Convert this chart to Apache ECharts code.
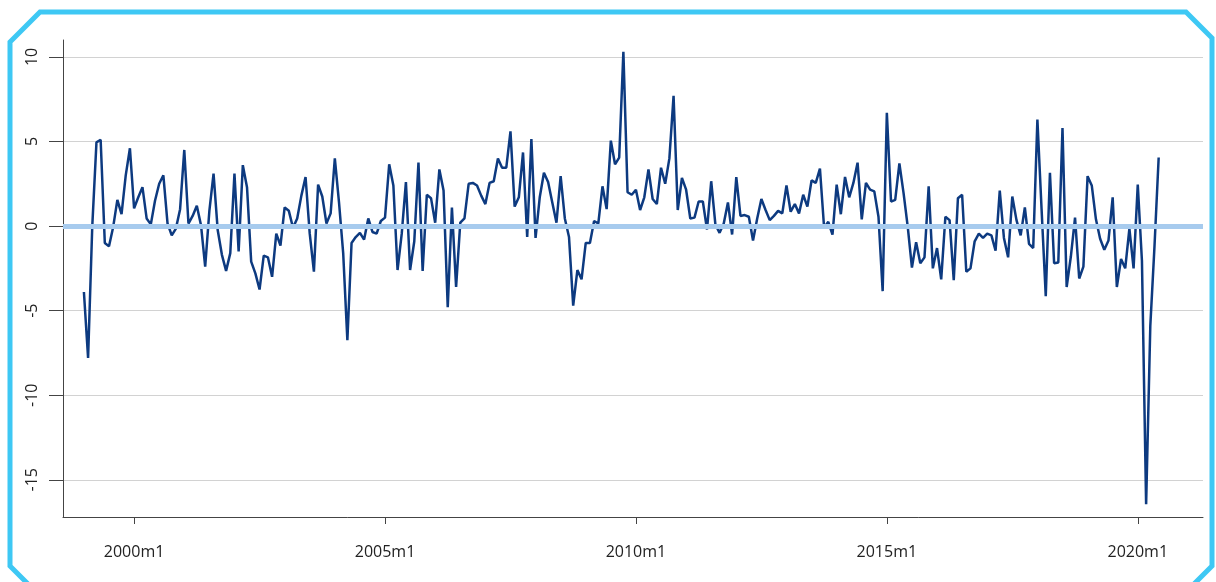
<!DOCTYPE html>
<html>
<head>
<meta charset="utf-8">
<script src="https://cdn.jsdelivr.net/npm/echarts@6/dist/echarts.min.js"></script>
<style>
html,body{margin:0;padding:0;background:#fff}
#chart{width:1216px;height:582px}
</style>
</head>
<body>
<div id="chart"></div>
<script>
// monthly series, 1999m1 .. 2020m6
var startYear = 1999;
var values = [
  -3.9, -7.8, 0.0, 4.95, 5.1, -1.0, -1.2, -0.05, 1.55, 0.7, 3.0, 4.6,
  1.05, 1.7, 2.3, 0.45, 0.1, 1.5, 2.5, 3.0, 0.15, -0.55, -0.15, 1.0,
  4.5, 0.15, 0.6, 1.2, 0.05, -2.4, 0.9, 3.1, -0.25, -1.7, -2.65, -1.6,
  3.1, -1.5, 3.6, 2.3, -2.1, -2.8, -3.75, -1.75, -1.85, -3.0, -0.45, -1.15,
  1.1, 0.9, -0.1, 0.45, 1.8, 2.9, -0.45, -2.7, 2.45, 1.75, 0.15, 0.75,
  4.0, 1.4, -1.6, -6.75, -1.0, -0.65, -0.4, -0.8, 0.45, -0.35, -0.45, 0.3,
  0.5, 3.65, 2.4, -2.6, -0.45, 2.6, -2.6, -0.9, 3.75, -2.65, 1.85, 1.65,
  0.2, 3.35, 2.1, -4.8, 1.1, -3.6, 0.2, 0.45, 2.5, 2.55, 2.4, 1.8,
  1.3, 2.55, 2.65, 4.0, 3.45, 3.45, 5.6, 1.15, 1.7, 4.35, -0.65, 5.15,
  -0.7, 1.7, 3.15, 2.6, 1.4, 0.2, 2.95, 0.45, -0.65, -4.7, -2.6, -3.15,
  -1.0, -1.0, 0.3, 0.15, 2.35, 1.0, 5.05, 3.65, 4.05, 10.3, 2.0, 1.85,
  2.15, 0.95, 1.7, 3.35, 1.6, 1.3, 3.45, 2.5, 4.0, 7.7, 0.95, 2.85,
  2.15, 0.45, 0.5, 1.45, 1.45, -0.2, 2.65, 0.1, -0.4, 0.15, 1.4, -0.5,
  2.9, 0.6, 0.65, 0.55, -0.85, 0.45, 1.6, 0.95, 0.35, 0.6, 0.9, 0.75,
  2.4, 0.85, 1.3, 0.75, 1.85, 1.15, 2.7, 2.55, 3.4, -0.1, 0.25, -0.5,
  2.45, 0.7, 2.9, 1.7, 2.55, 3.75, 0.4, 2.55, 2.15, 2.05, 0.55, -3.85,
  6.7, 1.45, 1.55, 3.7, 1.95, -0.05, -2.45, -0.95, -2.2, -1.85, 2.35, -2.5,
  -1.3, -3.15, 0.55, 0.35, -3.2, 1.65, 1.85, -2.7, -2.5, -0.9, -0.45, -0.7,
  -0.45, -0.55, -1.45, 2.1, -0.7, -1.85, 1.75, 0.35, -0.55, 1.1, -1.05, -1.3,
  6.3, 1.0, -4.15, 3.15, -2.2, -2.15, 5.8, -3.6, -1.8, 0.5, -3.1, -2.4,
  2.95, 2.4, 0.4, -0.75, -1.4, -0.85, 1.7, -3.6, -1.95, -2.5, -0.15, -2.5,
  2.45, -2.05, -16.45, -5.9, -1.2, 4.05
];
var yTicks = [-15, -10, -5, 0, 5, 10];
var xTickYears = [2000, 2005, 2010, 2015, 2020];

var xTicks = xTickYears.map(function(y) { return (y - startYear) * 12; });
var lineData = values.map(function(v, i) { return [i, v]; });

function monthLabel(v) {
  var y = startYear + Math.floor(v / 12);
  return y + 'm' + (v - (y - startYear) * 12 + 1);
}

var myChart = echarts.init(document.getElementById('chart'), null, {renderer: 'canvas'});

var option = {
  backgroundColor: '#fff',
  animation: false,
  textStyle: {fontFamily: 'Open Sans'},
  grid: {left: 63, right: 13, top: 40, bottom: 65, containLabel: false},
  xAxis: {
    type: 'value',
    min: -5,
    max: 267.6,
    axisLine: {show: true, onZero: false, lineStyle: {color: '#444', width: 1}},
    axisTick: {show: true, customValues: xTicks, length: 7, lineStyle: {color: '#444'}},
    axisLabel: {
      customValues: xTicks,
      formatter: monthLabel,
      margin: 27,
      fontSize: 16,
      color: '#222'
    },
    splitLine: {show: false}
  },
  yAxis: {
    type: 'value',
    min: -17.2,
    max: 11.0,
    axisLine: {show: true, onZero: false, lineStyle: {color: '#444', width: 1}},
    axisTick: {show: true, customValues: yTicks, length: 14, lineStyle: {color: '#444'}},
    axisLabel: {
      customValues: yTicks,
      rotate: 90,
      margin: 23,
      fontSize: 16,
      color: '#222'
    },
    splitLine: {show: true, lineStyle: {color: '#d2d2d2', width: 1}}
  },
  series: [
    {
      // zero reference line, kept under the data line
      type: 'line',
      data: [],
      z: 1,
      markLine: {
        silent: true,
        symbol: 'none',
        label: {show: false},
        lineStyle: {color: '#a7cbee', width: 5, type: 'solid'},
        data: [{yAxis: 0}]
      }
    },
    {
      type: 'line',
      z: 3,
      data: lineData,
      showSymbol: false,
      lineStyle: {color: '#0d3a80', width: 2.5},
      itemStyle: {color: '#0d3a80'}
    }
  ],
  graphic: [
    {
      type: 'polygon',
      silent: true,
      shape: {
        points: [[10, 42], [40, 12], [1186, 12], [1212, 38], [1212, 566], [1188, 590], [34, 590], [10, 566]]
      },
      style: {fill: 'none', stroke: '#3ec8f4', lineWidth: 5}
    }
  ]
};

myChart.setOption(option);
</script>
</body>
</html>
